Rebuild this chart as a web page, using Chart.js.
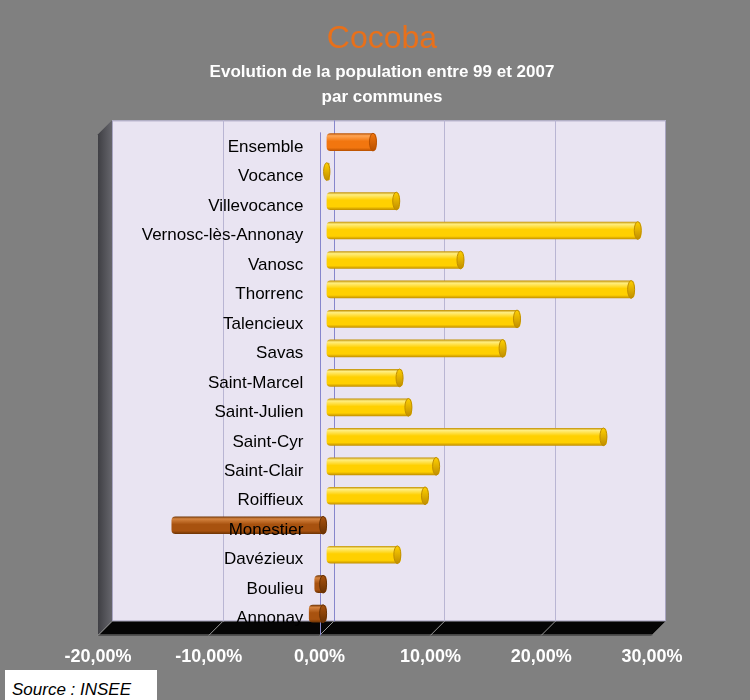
<!DOCTYPE html>
<html lang="fr">
<head>
<meta charset="utf-8">
<title>Cocoba</title>
<script src="https://cdn.jsdelivr.net/npm/chart.js@4.4.1/dist/chart.umd.min.js"></script>
<style>
  html, body { margin: 0; padding: 0; background: #808080; }
  #wrap { position: relative; width: 750px; height: 700px; }
  #source {
    position: absolute; left: 5px; top: 670px; width: 152px; height: 30px;
    box-sizing: border-box; padding: 8px 0 0 7px; background: #fff; color: #000;
    font: italic 17px "Liberation Sans", Arial, sans-serif; line-height: 24px;
  }
</style>
</head>
<body>
<div id="wrap">
  <canvas id="chart" width="750" height="700"></canvas>
  <div id="source">Source : INSEE</div>
</div>
<script>
const communes = [
  'Ensemble', 'Vocance', 'Villevocance', 'Vernosc-lès-Annonay', 'Vanosc',
  'Thorrenc', 'Talencieux', 'Savas', 'Saint-Marcel', 'Saint-Julien',
  'Saint-Cyr', 'Saint-Clair', 'Roiffieux', 'Monestier', 'Davézieux',
  'Boulieu', 'Annonay'
];
// évolution de la population 1999-2007, en %
const evolution = [
  4.5, 0.3, 6.6, 28.4, 12.4,
  27.8, 17.5, 16.2, 6.9, 7.7,
  25.3, 10.2, 9.2, -14.0, 6.7,
  -1.1, -1.6
];
const xTicks = [-20, -10, 0, 10, 20, 30];

Chart.defaults.font.family = '"Liberation Sans", Arial, sans-serif';

const DEPTH = 7;      // half depth of the 3D box, px
const BAR_PCT = 0.6;

// light, mid, dark tones of each cylinder kind
const tones = {
  total: ['#FFA555', '#F2760F', '#B85000'],
  up:    ['#FFEE80', '#FFD000', '#C08E00'],
  down:  ['#D58440', '#A8520F', '#6A3204']
};
function toneOf(i) {
  if (i === 0) return tones.total;
  return evolution[i] < 0 ? tones.down : tones.up;
}
function barHeight(chart) {
  const a = chart.chartArea;
  return (a.bottom - a.top) / communes.length * BAR_PCT;
}
function cylinderFill(c) {
  const chart = c.chart;
  const t = toneOf(c.dataIndex);
  if (!chart.chartArea) return t[1];
  const y = chart.scales.y.getPixelForValue(c.dataIndex);
  const h = barHeight(chart);
  const g = chart.ctx.createLinearGradient(0, y - h / 2, 0, y + h / 2);
  g.addColorStop(0, t[2]);
  g.addColorStop(0.14, t[0]);
  g.addColorStop(0.45, t[1]);
  g.addColorStop(0.82, t[1]);
  g.addColorStop(1, t[2]);
  return g;
}

// back wall, side wall, floor and grid of the 3D box
const box3d = {
  id: 'box3d',
  beforeDraw(chart) {
    const { ctx, chartArea: a, scales: { x } } = chart;
    const d = DEPTH;
    ctx.save();
    ctx.fillStyle = '#808080';
    ctx.fillRect(0, 0, chart.width, chart.height);

    // back wall
    ctx.fillStyle = '#E9E4F2';
    ctx.fillRect(a.left + d, a.top - d, a.right - a.left, a.bottom - a.top);
    ctx.strokeStyle = '#A9A5C2';
    ctx.lineWidth = 1;
    ctx.strokeRect(a.left + d + 0.5, a.top - d + 0.5, a.right - a.left - 1, a.bottom - a.top - 1);

    // side wall
    const sg = ctx.createLinearGradient(a.left - d, 0, a.left + d, 0);
    sg.addColorStop(0, '#3F3F44');
    sg.addColorStop(1, '#66666C');
    ctx.fillStyle = sg;
    ctx.beginPath();
    ctx.moveTo(a.left - d, a.top + d);
    ctx.lineTo(a.left + d, a.top - d);
    ctx.lineTo(a.left + d, a.bottom - d);
    ctx.lineTo(a.left - d, a.bottom + d);
    ctx.closePath();
    ctx.fill();

    // floor
    ctx.fillStyle = '#050505';
    ctx.beginPath();
    ctx.moveTo(a.left - d, a.bottom + d);
    ctx.lineTo(a.left + d, a.bottom - d);
    ctx.lineTo(a.right + d, a.bottom - d);
    ctx.lineTo(a.right - d, a.bottom + d);
    ctx.closePath();
    ctx.fill();
    ctx.strokeStyle = '#6E6E6E';
    ctx.beginPath();
    ctx.moveTo(a.left - d, a.bottom + d - 0.5);
    ctx.lineTo(a.right - d, a.bottom + d - 0.5);
    ctx.stroke();

    // grid on the back wall and on the floor
    xTicks.forEach(v => {
      const px = x.getPixelForValue(v);
      const bx = Math.round(px + d) + 0.5;
      if (v > xTicks[0] && v < xTicks[xTicks.length - 1]) {
        ctx.strokeStyle = v === 0 ? '#8686CC' : '#B9B5D3';
        ctx.beginPath();
        ctx.moveTo(bx, a.top - d);
        ctx.lineTo(bx, a.bottom - d);
        ctx.stroke();
      }
      ctx.strokeStyle = '#9A9A9A';
      ctx.beginPath();
      ctx.moveTo(px - d, a.bottom + d);
      ctx.lineTo(px + d, a.bottom - d);
      ctx.stroke();
    });

    // front edge of the zero plane
    const fx = Math.round(x.getPixelForValue(0) - d) + 0.5;
    ctx.strokeStyle = '#8686CC';
    ctx.beginPath();
    ctx.moveTo(fx, a.top + d - 2);
    ctx.lineTo(fx, a.bottom + d);
    ctx.stroke();
    ctx.restore();
  }
};

// visible end cap of each cylinder
const caps = {
  id: 'caps',
  afterDatasetsDraw(chart) {
    const { ctx } = chart;
    const meta = chart.getDatasetMeta(0);
    const h = barHeight(chart);
    ctx.save();
    meta.data.forEach((bar, i) => {
      const { x, y, base } = bar.getProps(['x', 'y', 'base'], true);
      const t = toneOf(i);
      const end = Math.max(x, base);
      const rx = Math.min(3.5, Math.abs(x - base) / 2 + 1.5);
      const g = ctx.createLinearGradient(0, y - h / 2, 0, y + h / 2);
      g.addColorStop(0, t[1]);
      g.addColorStop(1, t[2]);
      ctx.fillStyle = g;
      ctx.strokeStyle = t[2];
      ctx.lineWidth = 1;
      ctx.beginPath();
      ctx.ellipse(end - rx, y, rx, h / 2, 0, 0, Math.PI * 2);
      ctx.fill();
      ctx.stroke();
    });
    ctx.restore();
  }
};

new Chart(document.getElementById('chart'), {
  type: 'bar',
  data: {
    labels: communes,
    datasets: [{
      data: evolution,
      backgroundColor: cylinderFill,
      borderWidth: 0,
      borderRadius: 4,
      borderSkipped: false,
      barPercentage: BAR_PCT,
      categoryPercentage: 1
    }]
  },
  options: {
    indexAxis: 'y',
    responsive: false,
    animation: false,
    layout: { padding: { left: 105, right: 91, top: 0, bottom: 14 } },
    scales: {
      x: {
        min: -20,
        max: 30,
        afterBuildTicks: s => { s.ticks = xTicks.map(v => ({ value: v })); },
        grid: { display: false, drawTicks: false },
        border: { display: false },
        ticks: {
          color: '#FFFFFF',
          font: { size: 18, weight: 'bold' },
          padding: 18,
          labelOffset: -DEPTH,
          maxRotation: 0,
          autoSkip: false,
          callback: v => v.toFixed(2).replace('.', ',') + '%'
        }
      },
      y: {
        // commune names sit just left of the zero plane
        position: { x: -2.1 },
        grid: { display: false, drawTicks: false },
        border: { display: false },
        ticks: {
          z: 1,
          color: '#000000',
          font: { size: 17 },
          labelOffset: 5,
          autoSkip: false
        }
      }
    },
    plugins: {
      legend: { display: false },
      tooltip: { enabled: false },
      title: {
        display: true,
        text: 'Cocoba',
        color: '#E8701A',
        font: { size: 32, weight: 'normal', lineHeight: 1.2 },
        padding: { top: 20, bottom: 2 }
      },
      subtitle: {
        display: true,
        text: ['Evolution de la population entre 99 et 2007', 'par communes'],
        color: '#FFFFFF',
        font: { size: 17, weight: 'bold', lineHeight: 1.44 },
        padding: { top: 0, bottom: 18 }
      }
    }
  },
  plugins: [box3d, caps]
});
</script>
</body>
</html>
